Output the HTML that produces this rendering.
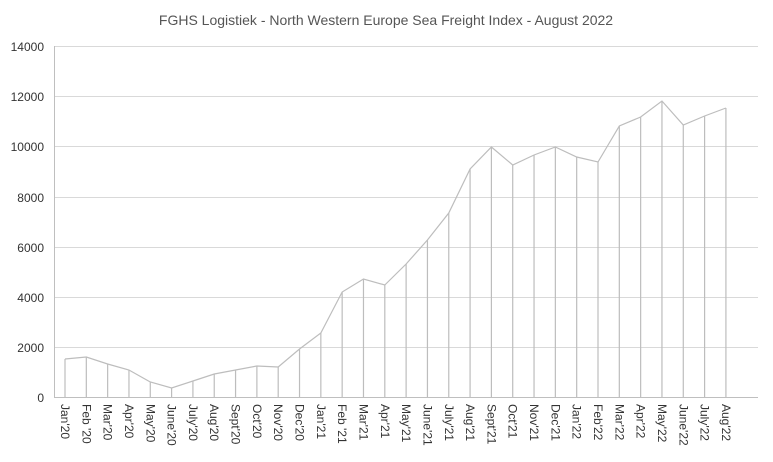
<!DOCTYPE html>
<html><head><style>body{margin:0;background:#fff}</style></head><body>
<svg width="773" height="457" xmlns="http://www.w3.org/2000/svg" font-family="'Liberation Sans',sans-serif">
<rect width="773" height="457" fill="#fff"/>
<text x="386" y="25" font-size="14" fill="#555" text-anchor="middle">FGHS Logistiek - North Western Europe Sea Freight Index - August 2022</text>
<g stroke="#d9d9d9" stroke-width="1">
<line x1="54" y1="46.5" x2="758" y2="46.5"/><line x1="54" y1="96.5" x2="758" y2="96.5"/><line x1="54" y1="146.5" x2="758" y2="146.5"/><line x1="54" y1="197.5" x2="758" y2="197.5"/><line x1="54" y1="247.5" x2="758" y2="247.5"/><line x1="54" y1="297.5" x2="758" y2="297.5"/><line x1="54" y1="347.5" x2="758" y2="347.5"/>
</g>
<line x1="54.5" y1="46" x2="54.5" y2="398" stroke="#bfbfbf"/>
<line x1="54" y1="397.5" x2="758" y2="397.5" stroke="#bfbfbf"/>
<g font-size="12" fill="#333" text-anchor="end">
<text x="44" y="51">14000</text><text x="44" y="101">12000</text><text x="44" y="151">10000</text><text x="44" y="202">8000</text><text x="44" y="252">6000</text><text x="44" y="302">4000</text><text x="44" y="352">2000</text><text x="44" y="402">0</text>
</g>
<g id="s" stroke="#bdbdbd" stroke-width="1.2" fill="none"></g>
<g id="l" font-size="12" fill="#333"></g>
<script>
var y=[359,357,364,370,382,388,381,374,370,366,367,349,333,292,279,285,264,240,213,169,147,165,155,147,157,162,126,117,101,125,116,108];
var n=["Jan'20","Feb '20","Mar'20","Apr'20","May'20","June'20","July'20","Aug'20","Sept'20","Oct'20","Nov'20","Dec'20","Jan'21","Feb '21","Mar'21","Apr'21","May'21","June'21","July'21","Aug'21","Sept'21","Oct'21","Nov'21","Dec'21","Jan'22","Feb'22","Mar'22","Apr'22","May'22","June'22","July'22","Aug'22"];
var s=document.getElementById('s'),l=document.getElementById('l'),NS="http://www.w3.org/2000/svg",p="";
for(var i=0;i<32;i++){var x=65+i*21.32;p+=(i?"L":"M")+x+" "+y[i];
var ln=document.createElementNS(NS,"line");ln.setAttribute("x1",x);ln.setAttribute("x2",x);ln.setAttribute("y1",y[i]);ln.setAttribute("y2",397);s.appendChild(ln);
var t=document.createElementNS(NS,"text");t.setAttribute("transform","translate("+(x-4)+",404) rotate(90)");t.textContent=n[i];l.appendChild(t);}
var pa=document.createElementNS(NS,"path");pa.setAttribute("d",p);s.appendChild(pa);
</script>
</svg>
</body></html>
